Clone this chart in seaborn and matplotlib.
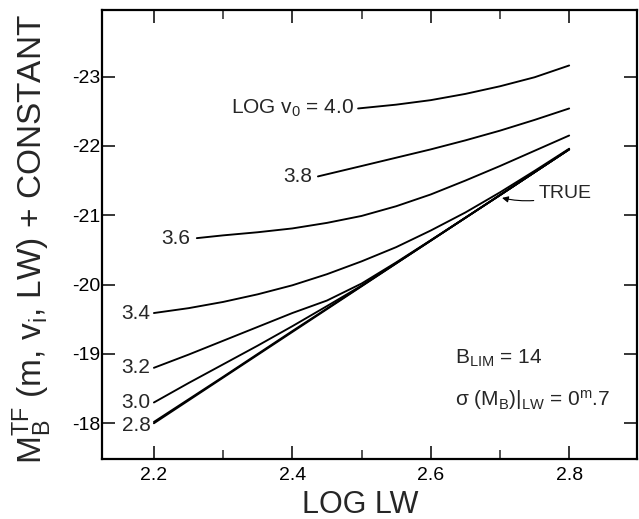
import matplotlib
matplotlib.use("Agg")
import matplotlib.pyplot as plt
import seaborn as sns
import pandas as pd

# ---- data ----
curve_names = ["2.8", "3.0", "3.2", "3.4", "3.6", "3.8", "4.0"]

x_28 = [2.2, 2.3, 2.4, 2.5, 2.6, 2.7, 2.8]
y_28 = [-18.02, -18.67, -19.33, -19.98, -20.635, -21.29, -21.95]

x_30 = [2.2, 2.25, 2.3, 2.35, 2.4, 2.45, 2.5, 2.6, 2.7, 2.8]
y_30 = [-18.30, -18.58, -18.85, -19.12, -19.40, -19.69, -19.985, -20.635, -21.29, -21.95]

x_32 = [2.2, 2.25, 2.3, 2.35, 2.4, 2.45, 2.5, 2.55, 2.6, 2.7, 2.8]
y_32 = [-18.80, -18.99, -19.19, -19.39, -19.59, -19.77, -20.015, -20.32, -20.64, -21.29, -21.95]

x_34 = [2.2, 2.25, 2.3, 2.35, 2.4, 2.45, 2.5, 2.55, 2.6, 2.65, 2.7, 2.75, 2.8]
y_34 = [-19.59, -19.66, -19.75, -19.86, -19.99, -20.15, -20.335, -20.54, -20.78,
        -21.04, -21.33, -21.64, -21.96]

x_36 = [2.262, 2.3, 2.35, 2.4, 2.45, 2.5, 2.55, 2.6, 2.65, 2.7, 2.75, 2.8]
y_36 = [-20.67, -20.71, -20.755, -20.81, -20.89, -20.99, -21.13, -21.30, -21.50,
        -21.71, -21.93, -22.15]

x_38 = [2.437, 2.5, 2.55, 2.6, 2.65, 2.7, 2.75, 2.8]
y_38 = [-21.56, -21.71, -21.83, -21.95, -22.08, -22.22, -22.375, -22.54]

x_40 = [2.495, 2.55, 2.6, 2.65, 2.7, 2.75, 2.8]
y_40 = [-22.54, -22.595, -22.66, -22.75, -22.86, -22.99, -23.16]

x_true = [2.2, 2.8]
y_true = [-18.00, -21.95]

x_ticks = [2.2, 2.4, 2.6, 2.8]
x_minor = [2.3, 2.5, 2.7]
y_ticks = [-23, -22, -21, -20, -19, -18]

curves_x = [x_28, x_30, x_32, x_34, x_36, x_38, x_40]
curves_y = [y_28, y_30, y_32, y_34, y_36, y_38, y_40]

rows = []
for name, xs, ys in zip(curve_names, curves_x, curves_y):
    for xv, yv in zip(xs, ys):
        rows.append({"curve": name, "logLW": xv, "M": yv})
for xv, yv in zip(x_true, y_true):
    rows.append({"curve": "TRUE", "logLW": xv, "M": yv})
df = pd.DataFrame(rows)

# ---- style ----
sns.set_style("ticks")
plt.rcParams["font.family"] = ["Liberation Sans", "DejaVu Sans"]
plt.rcParams["mathtext.fontset"] = "custom"
plt.rcParams["mathtext.rm"] = "Liberation Sans"
plt.rcParams["mathtext.it"] = "Liberation Sans:italic"
plt.rcParams["mathtext.sf"] = "Liberation Sans"
plt.rcParams["mathtext.default"] = "regular"

fig = plt.figure(figsize=(6.39, 5.19), dpi=100)
ax = fig.add_axes([102 / 639, 1 - 459 / 519, 535 / 639, 449 / 519])

order = curve_names + ["TRUE"]
sns.lineplot(data=df, x="logLW", y="M", hue="curve", hue_order=order,
             palette=["black"] * len(order), legend=False, sort=False,
             estimator=None, linewidth=1.35, ax=ax)

ax.set_xlim(2.125, 2.898)
ax.set_ylim(-17.485, -23.96)
ax.set_xticks(x_ticks)
ax.set_xticks(x_minor, minor=True)
ax.set_xticklabels([f"{v:.1f}" for v in x_ticks])
ax.set_yticks(y_ticks)
ax.set_yticklabels([f"-{abs(v)}" for v in y_ticks])
ax.set_xlabel("")
ax.set_ylabel("")

for s in ax.spines.values():
    s.set_visible(True)
    s.set_linewidth(1.6)
    s.set_color("black")

ax.tick_params(which="major", direction="in", length=9.5, width=1.1,
               top=True, right=True, labelsize=14, colors="black")
ax.tick_params(which="minor", direction="in", length=6.5, width=1.1,
               top=True, right=False)
ax.tick_params(axis="y", pad=1)
ax.tick_params(axis="x", pad=6)

# curve labels
lab_fs = 15
ax.text(x_28[0] - 0.005, y_28[0] + 0.05, "2.8", ha="right", va="center", fontsize=lab_fs)
ax.text(x_30[0] - 0.005, y_30[0], "3.0", ha="right", va="center", fontsize=lab_fs)
ax.text(x_32[0] - 0.005, y_32[0], "3.2", ha="right", va="center", fontsize=lab_fs)
ax.text(x_34[0] - 0.005, y_34[0], "3.4", ha="right", va="center", fontsize=lab_fs)
ax.text(x_36[0] - 0.010, y_36[0], "3.6", ha="right", va="center", fontsize=lab_fs)
ax.text(x_38[0] - 0.008, y_38[0], "3.8", ha="right", va="center", fontsize=lab_fs)
ax.text(x_40[0] - 0.006, y_40[0], r"LOG v$_0$ = 4.0", ha="right", va="center", fontsize=lab_fs)

# TRUE annotation
ax.annotate("TRUE", xy=(2.703, -21.25), xytext=(2.7555, -21.31),
            ha="left", va="center", fontsize=14,
            arrowprops=dict(arrowstyle="-|>", color="black", lw=0.8,
                            mutation_scale=9,
                            connectionstyle="arc3,rad=-0.15",
                            shrinkA=1, shrinkB=0))

# parameter text
ax.text(2.635, -18.93, r"B$_{LIM}$ = 14", ha="left", va="center", fontsize=15)
ax.text(2.635, -18.33, r"σ (M$_B$)|$_{LW}$ = 0$^{m}$.7", ha="left", va="center", fontsize=15)

# axis titles
fig.text(32 / 639, 1 - 239 / 519, r"M$_B^{TF}$ (m, v$_i$, LW) + CONSTANT",
         rotation=90, ha="center", va="center", fontsize=24)
fig.text(360 / 639, 1 - 513 / 519, "LOG LW", ha="center", va="baseline", fontsize=22)

fig.savefig("out.png", dpi=100)
